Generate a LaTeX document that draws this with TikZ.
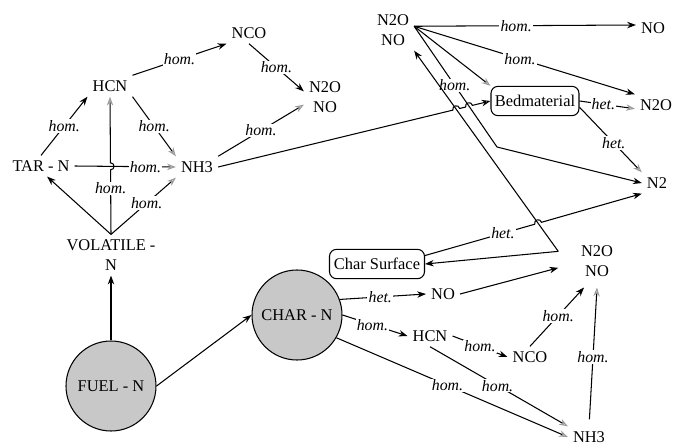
\documentclass[tikz,border=0pt]{standalone}
\usepackage{fontspec}
\setmainfont{Liberation Serif}
\usetikzlibrary{positioning, arrows.meta, calc, intersections}
\definecolor{cDisk}{HTML}{C8C8C8}
\definecolor{cTip}{HTML}{9A9A9A}

\begin{document}
\begin{tikzpicture}[x=0.03cm, y=-0.03cm, line width=0.9pt,
    every node/.style={font=\fontsize{14}{17}\selectfont, inner sep=4pt, align=center},
    disk/.style={circle, draw, fill=cDisk, minimum size=2.7cm, inner sep=0pt},
    roundbox/.style={draw, rounded corners=6pt, minimum height=0.88cm, inner sep=2pt},
    lbl/.style={font=\fontsize{13.5}{15}\selectfont\itshape, fill=white, inner sep=1pt},
    blk/.style={-{Stealth[length=7.5pt,width=5.5pt]}},
    opn/.style={-{Stealth[open,length=7.5pt,width=5.5pt,color=cTip]}},
    opk/.style={-{Stealth[open,length=7.5pt,width=5.5pt]}},
    hopl/.style={bend left=90, looseness=1.7},
    hopr/.style={bend right=90, looseness=1.7}]
  \path[use as bounding box, fill=white] (0,0) rectangle (673,447);

  % volatile nitrogen
  \node (tarn) at (41,166) {TAR - N};
  \node (hcnv) at (110,86) {HCN};
  \node (ncov) at (249,33) {NCO};
  \node (noxv) at (325,97) {N2O\\NO};
  \node (nh3v) at (197,167) {NH3};
  \node (vol) at (111,255) {VOLATILE -\\N};
  \node[disk] (fuel) at (111,386) {FUEL - N};
  \node[disk] (char) at (297,315) {CHAR - N};

  % upper right
  \node (noxt) at (393,30) {N2O\\NO};
  \node (notr) at (653,28) {NO};
  \node[roundbox, minimum width=2.64cm] (bed) at (535,101) {Bedmaterial};
  \node (n2or) at (656,105) {N2O};
  \node (ntwo) at (657,183) {N2};
  \coordinate (knee) at (497,147);

  % char nitrogen
  \node[roundbox, minimum width=2.85cm] (csurf) at (377,264) {Char Surface};
  \node[inner xsep=19pt, inner ysep=9pt] (noxb) at (597,261) {N2O\\NO};
  \node (noc) at (443,294) {NO};
  \node (hcnc) at (430,336) {HCN};
  \node (ncoc) at (530,357) {NCO};
  \node (nh3c) at (589,437) {NH3};

  % crossings
  \path[name path=pa] (noxb.166) -- (noxt.south east);
  \path[name path=pb] (noxt.10) -- (knee);
  \path[name path=pn] (nh3v.east) -- (bed.west);
  \path[name path=pt] (tarn.east) -- (nh3v.west);
  \path[name path=pv] (vol.north) -- (hcnv.south);
  \path[name path=ph] (csurf.10) -- (ntwo.south west);
  \path[name intersections={of=pt and pv, by=j0}];
  \path[name intersections={of=pa and pn, by=j1}];
  \path[name intersections={of=pb and pn, by=j2}];
  \path[name intersections={of=pa and ph, by=j3}];

  \draw[blk] (fuel) -- (vol);
  \draw[blk] (fuel.east) -- (char.west);
  \draw[blk] (vol.north) -- (tarn.300);
  \draw[opn] (vol.north) -- node[lbl, pos=0.55] {hom.} (nh3v.south west);
  \draw[opn] (vol.north) -- node[lbl, pos=0.71] {hom.} ($(j0)!3pt!(vol.north)$)
    to[hopr] ($(j0)!3pt!(hcnv.south)$) -- (hcnv.south);
  \draw[blk] (tarn.north) -- node[lbl] {hom.} (hcnv.south west);
  \draw[opn] (tarn.east) -- node[lbl, pos=0.7] {hom.} (nh3v.west);
  \draw[blk] (hcnv.north east) -- node[lbl] {hom.} (ncov.south west);
  \draw[opn] (hcnv.south east) -- node[lbl] {hom.} (nh3v.north west);
  \draw[blk] (ncov.south) -- node[lbl] {hom.} (noxv.165);
  \draw[opn] (nh3v.north east) -- node[lbl] {hom.} (noxv.200);
  \draw[opk] (nh3v.east) -- ($(j1)!3pt!(nh3v.east)$) to[hopl] ($(j1)!3pt!(bed.west)$)
    -- ($(j2)!3pt!(nh3v.east)$) to[hopl] ($(j2)!3pt!(bed.west)$) -- (bed.west);

  \draw[blk] (noxt.10) -- node[lbl, pos=0.46] {hom.} (notr.170);
  \draw[blk] (noxt.10) -- node[lbl, pos=0.48] {hom.} (n2or.north west);
  \draw[opn] (noxt.10) -- (bed.north west);
  \draw[blk] (noxt.10) -- node[lbl, pos=0.49] {hom.} (knee) -- (ntwo.west);
  \draw[opn] (bed.east) -- node[lbl, pos=0.43] {het.} (n2or.190);
  \draw[opn] (bed.-8) -- node[lbl, pos=0.55] {het.} (ntwo.north west);

  \draw[blk] (noxb.166) -- (noxt.south east);
  \draw[blk] (noxb.166) -- (csurf.east);
  \draw[blk] (csurf.10) -- node[lbl, pos=0.71] {het.} ($(j3)!3pt!(csurf.10)$)
    to[hopl] ($(j3)!3pt!(ntwo.south west)$) -- (ntwo.south west);
  \draw[blk] (char.20) -- node[lbl, pos=0.47] {het.} (noc.west);
  \draw[blk] (noc.east) -- (noxb.190);
  \draw[blk] (char.east) -- node[lbl, pos=0.46] {hom.} (hcnc.west);
  \draw[blk] (hcnc.east) -- node[lbl] {hom.} (ncoc.west);
  \draw[blk] (ncoc.north) -- node[lbl, pos=0.52] {hom.} (noxb.244);
  \draw[opn] (hcnc.south) -- node[lbl, pos=0.49] {hom.} (nh3c.north west);
  \draw[opn] (char.-30) -- node[lbl, pos=0.48] {hom.} (nh3c.west);
  \draw[opn, shorten <=6pt] (nh3c.north) -- node[lbl] {hom.} (noxb.south);
\end{tikzpicture}
\end{document}
